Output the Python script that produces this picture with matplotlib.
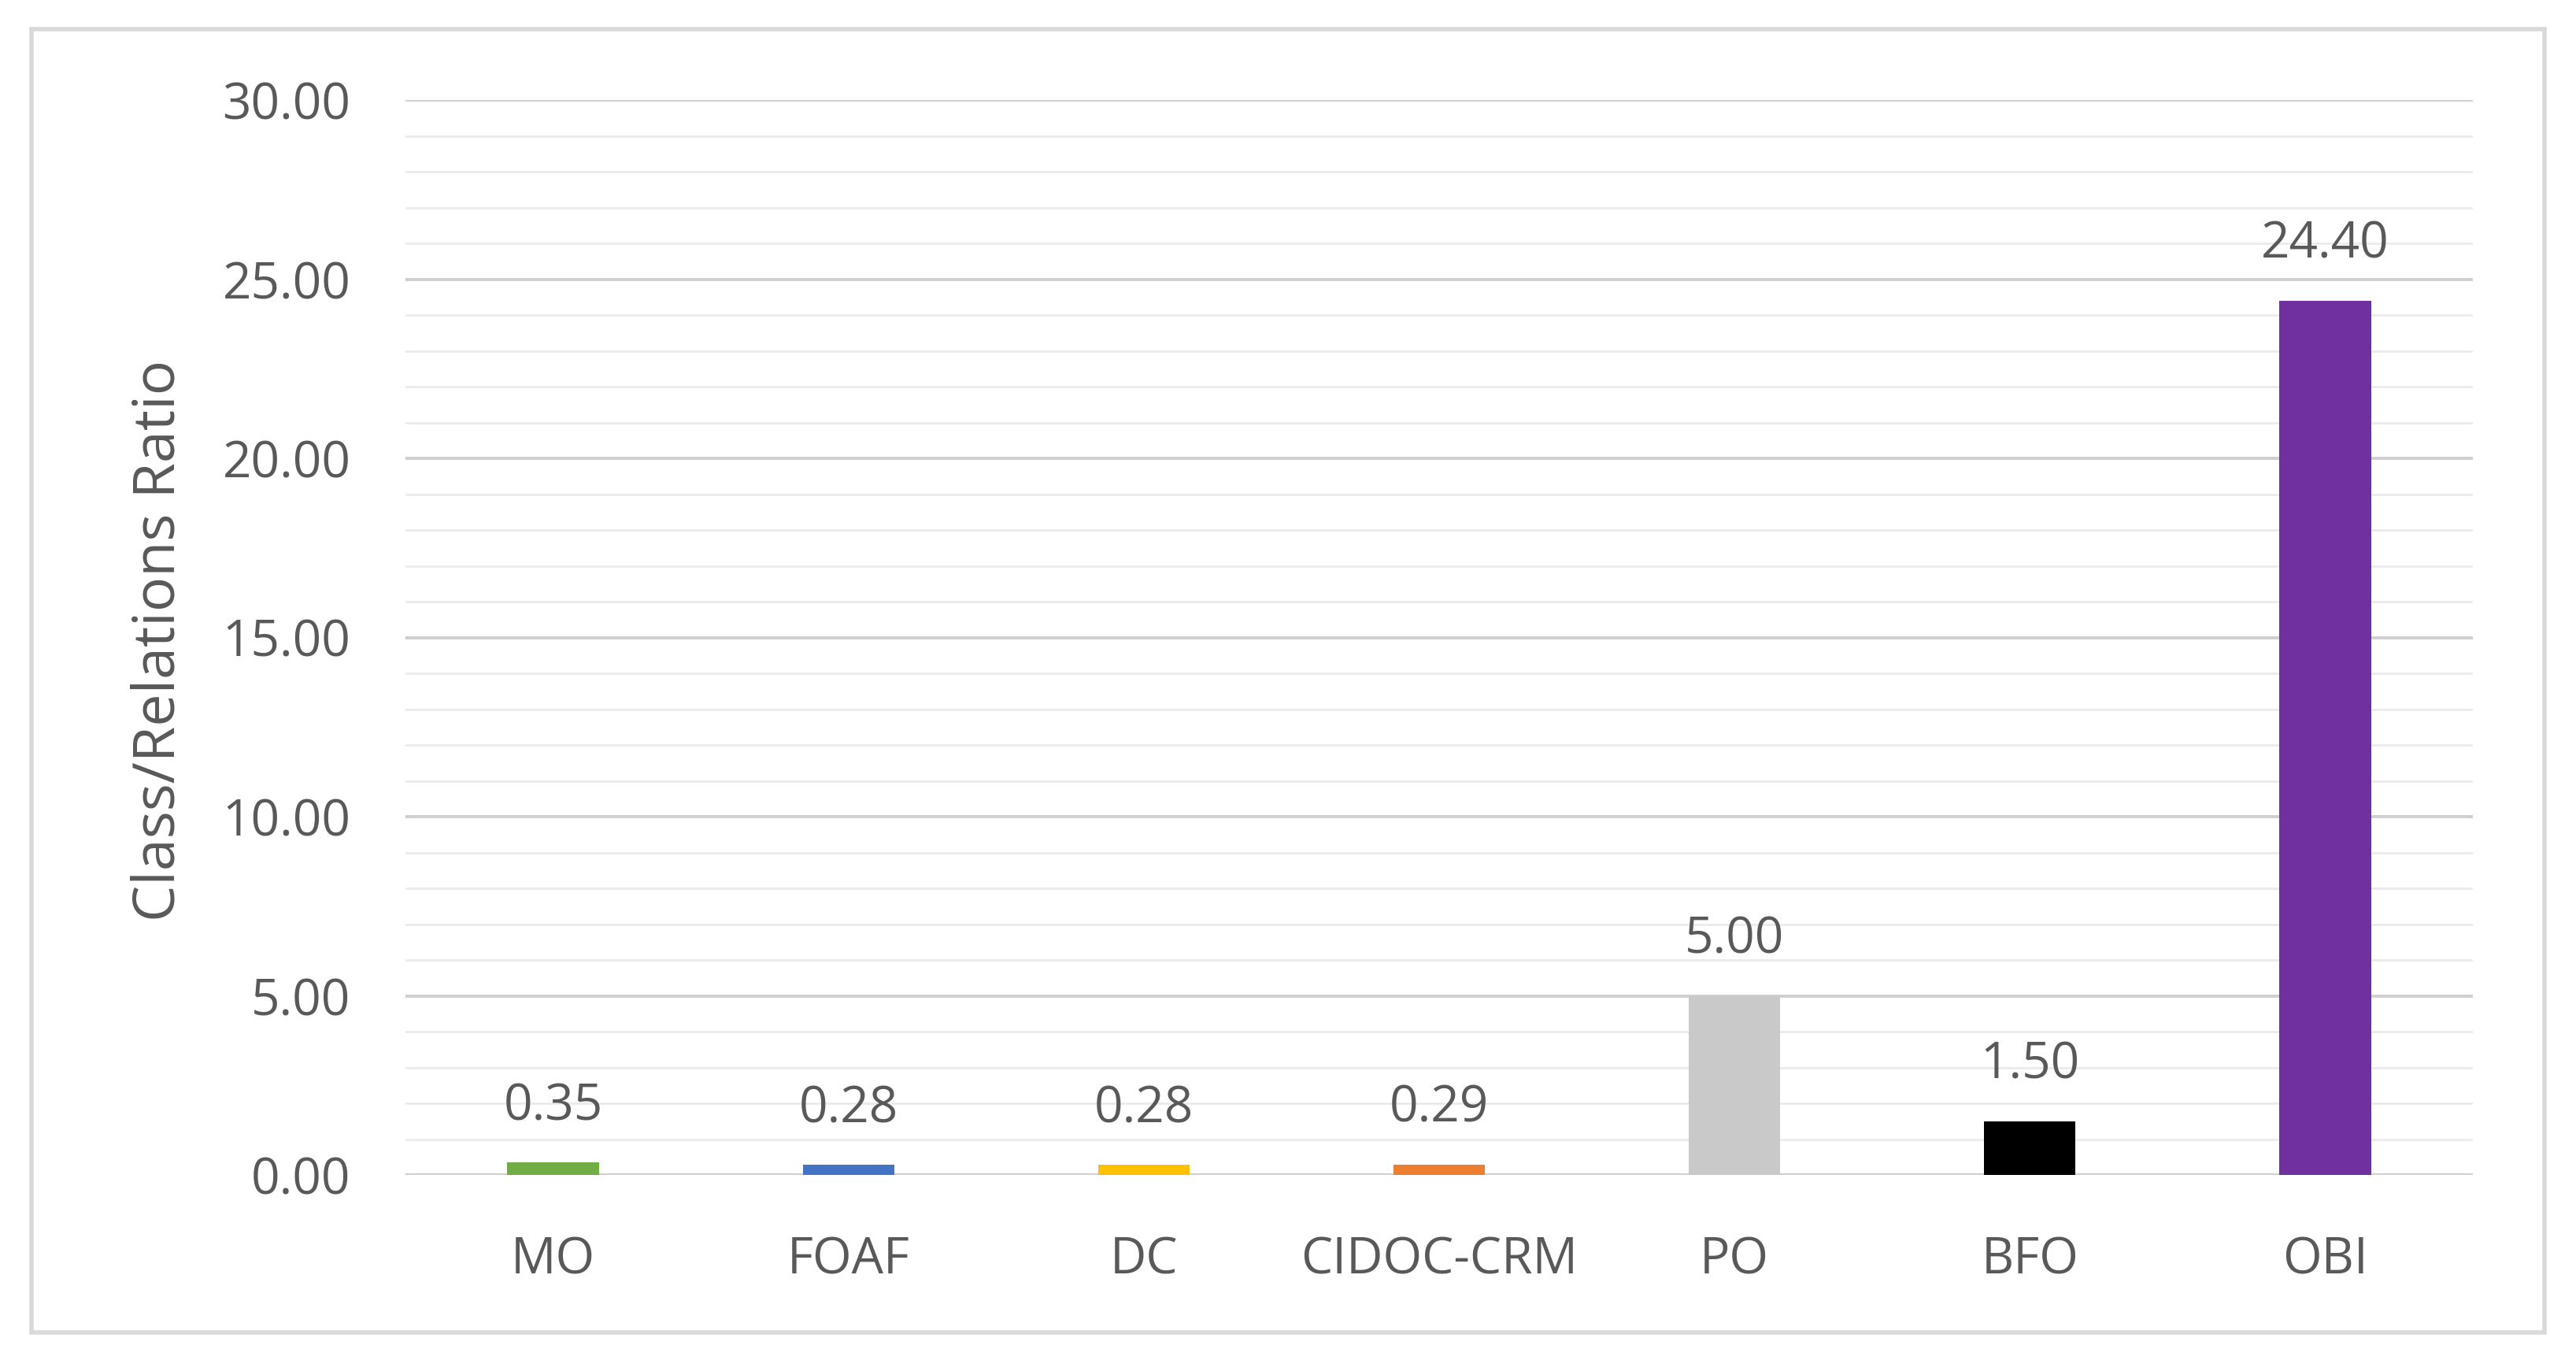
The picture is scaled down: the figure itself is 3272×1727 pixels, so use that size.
import matplotlib
matplotlib.use("Agg")
import matplotlib.pyplot as plt
from matplotlib.patches import Rectangle
import numpy as np

categories = ["MO", "FOAF", "DC", "CIDOC-CRM", "PO", "BFO", "OBI"]
values = [0.35, 0.28, 0.28, 0.29, 5.00, 1.50, 24.40]
colors = ["#70AD47", "#4472C4", "#FFC000", "#ED7D31", "#C9C9C9", "#000000", "#7030A0"]
yticks = [0, 5, 10, 15, 20, 25, 30]
ylabel = "Class/Relations Ratio"

plt.rcParams['font.family'] = ['Open Sans', 'DejaVu Sans']
txt = "#595959"

W, H = 3273, 1727
fig = plt.figure(figsize=(W / 100, H / 100), dpi=100)
ax = fig.add_axes([515 / W, 1 - 1492 / H, (3141 - 515) / W, (1492 - 127) / H])

x = np.arange(len(categories))
ax.bar(x, values, width=0.31, color=colors, zorder=3)
ax.set_xlim(-0.5, len(categories) - 0.5)
ax.set_ylim(0, 30)

ax.set_yticks(yticks)
ax.set_yticklabels([f"{v:.2f}" for v in yticks])
ax.set_yticks(np.arange(0, 31, 1), minor=True)
ax.grid(axis='y', which='major', color="#CFCFCF", linewidth=2.8, zorder=0)
ax.grid(axis='y', which='minor', color="#EBEBEB", linewidth=2.0, zorder=0)
ax.set_xticks(x)
ax.set_xticklabels(categories)
ax.tick_params(axis='both', which='both', length=0, labelsize=46, colors=txt)
ax.tick_params(axis='y', pad=50)
ax.tick_params(axis='x', pad=55)
for s in ax.spines.values():
    s.set_visible(False)
ax.axhline(0, color="#CFCFCF", linewidth=3, zorder=2)

for xi, v in zip(x, values):
    ax.annotate(f"{v:.2f}", (xi, v), xytext=(0, 28), textcoords="offset points",
                ha="center", va="bottom", fontsize=46, color=txt)

ax.set_ylabel(ylabel, fontsize=53, color=txt)
ax.yaxis.set_label_coords((240 - 515) / (3141 - 515), 0.497)

fig.patches.append(Rectangle((40 / W, 1 - 1692 / H), (3232 - 40) / W, (1692 - 37) / H,
                             transform=fig.transFigure, fill=False,
                             edgecolor="#D9D9D9", linewidth=4))

fig.savefig("out.png", dpi=100, facecolor="white")
